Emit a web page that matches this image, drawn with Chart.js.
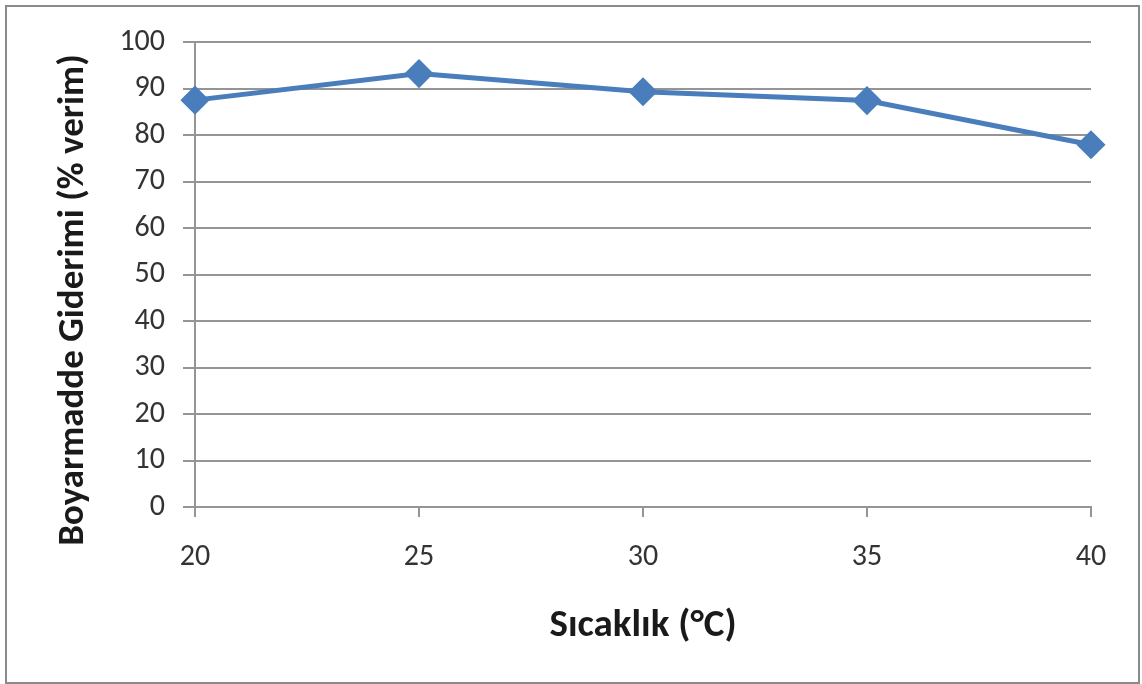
<!DOCTYPE html>
<html>
<head>
<meta charset="utf-8">
<script src="https://cdn.jsdelivr.net/npm/chart.js@4"></script>
<style>
  html, body { margin: 0; padding: 0; background: #fff; }
  #wrap { width: 1142px; height: 684px; }
</style>
</head>
<body>
<div id="wrap"><canvas id="chart" width="1142" height="684"></canvas></div>
<script>
// Data
const temps = [20, 25, 30, 35, 40];
const removal = [87.5, 93.2, 89.3, 87.4, 77.9];
const yTicks = [0, 10, 20, 30, 40, 50, 60, 70, 80, 90, 100];
const xTitle = 'Sıcaklık (°C)';
const yTitle = 'Boyarmadde Giderimi (% verim)';

const gridColor = '#959595';
const fontFamily = "Carlito, Lato, 'Open Sans', sans-serif";

// Frame round the whole picture + rotated y title
const framePlugin = {
    id: 'frame',
    beforeDraw(chart) {
        const ctx = chart.ctx;
        ctx.save();
        ctx.fillStyle = '#fff';
        ctx.fillRect(0, 0, chart.width, chart.height);
        ctx.strokeStyle = '#8a8a8a';
        ctx.lineWidth = 2;
        ctx.strokeRect(6, 6, 1133, 677);
        ctx.restore();
    },
    afterDraw(chart) {
        const ctx = chart.ctx;
        ctx.save();
        ctx.translate(74, 300);
        ctx.rotate(-Math.PI / 2);
        ctx.font = "bold 37px " + fontFamily;
        ctx.fillStyle = '#1a1a1a';
        ctx.textAlign = 'center';
        ctx.textBaseline = 'middle';
        ctx.fillText(yTitle, 0, 0);
        ctx.restore();
    }
};

const ctx = document.getElementById('chart').getContext('2d');
new Chart(ctx, {
    type: 'line',
    data: {
        datasets: [{
            data: temps.map((t, i) => ({ x: t, y: removal[i] })),
            borderColor: '#4a7dbb',
            backgroundColor: '#4a7dbb',
            borderWidth: 5,
            pointStyle: 'rectRot',
            pointRadius: 11,
            pointHoverRadius: 11,
            tension: 0,
            clip: false
        }]
    },
    options: {
        responsive: false,
        animation: false,
        events: [],
        layout: { padding: { top: 42, right: 51, left: 0, bottom: 0 } },
        plugins: {
            legend: { display: false },
            tooltip: { enabled: false }
        },
        scales: {
            x: {
                type: 'linear',
                min: 20,
                max: 40,
                afterFit(scale) { scale.height = 684 - 507; },
                afterBuildTicks(scale) { scale.ticks = temps.map(v => ({ value: v })); },
                grid: {
                    drawOnChartArea: false,
                    color: gridColor,
                    lineWidth: 2,
                    tickLength: 10
                },
                border: { color: gridColor, width: 2 },
                ticks: {
                    padding: 22,
                    color: '#333',
                    font: { family: fontFamily, size: 30 }
                },
                title: {
                    display: true,
                    text: xTitle,
                    color: '#1a1a1a',
                    padding: { top: 0, bottom: 34 },
                    font: { family: fontFamily, size: 39, weight: 'bold' }
                }
            },
            y: {
                min: 0,
                max: 100,
                afterFit(scale) { scale.width = 195; },
                afterBuildTicks(scale) { scale.ticks = yTicks.map(v => ({ value: v })); },
                grid: {
                    color: gridColor,
                    lineWidth: 2,
                    tickLength: 12
                },
                border: { color: gridColor, width: 2 },
                ticks: {
                    padding: 18,
                    color: '#333',
                    font: { family: fontFamily, size: 30 }
                }
            }
        }
    },
    plugins: [framePlugin]
});
</script>
</body>
</html>
